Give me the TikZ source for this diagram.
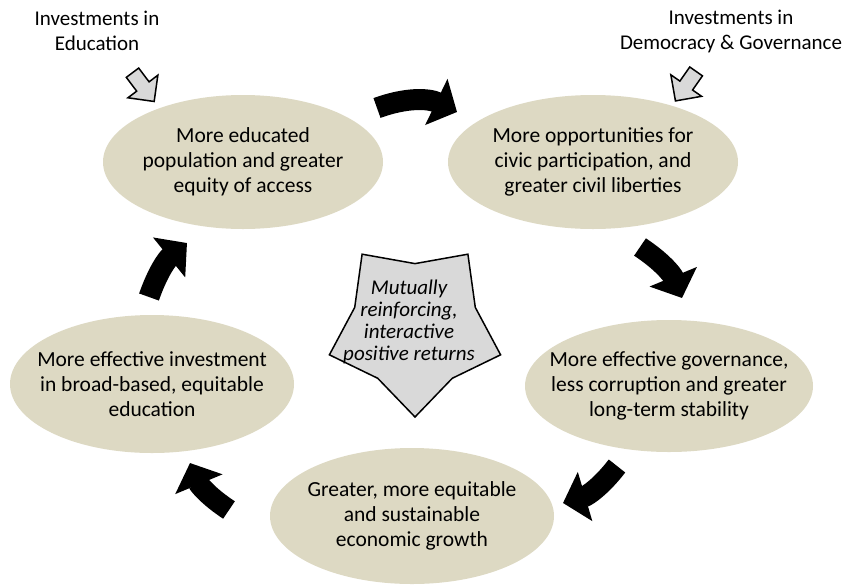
\documentclass[tikz,border=0pt]{standalone}
\usepackage{fontspec}
\setmainfont{Carlito}
\usetikzlibrary{shapes.geometric,shapes.arrows,arrows.meta}
\definecolor{tanfill}{HTML}{DDD9C3}
\definecolor{arrowfill}{HTML}{D9D9D9}
\begin{document}
\begin{tikzpicture}[x=1pt,y=-1pt,
main node/.style={ellipse,fill=tanfill,inner xsep=-35pt,inner ysep=0pt,align=center,font=\fontsize{21.5}{25}\selectfont},
flow arrow/.style={line width=21pt,-{Triangle[width=50pt,length=23pt]}},
input arrow/.style={single arrow,draw,fill=arrowfill,line width=1.5pt,inner xsep=0pt,inner ysep=7pt,minimum height=36pt,minimum width=36pt,single arrow head extend=11pt},
input text/.style={align=center,font=\fontsize{21}{25}\selectfont}]
\useasboundingbox (0,0) rectangle (864,584);
\node[input text] (6) at (97,31) {Investments in\\Education};
\node[input text] (7) at (731,31) {Investments in\\Democracy \& Governance};
\node[input arrow,rotate=-53] (61) at (141,84) {};
\node[input arrow,rotate=-125] (71) at (688,83) {};
\node[main node,minimum width=280pt,minimum height=134pt] (1) at (243,162) {More educated\\population and greater\\equity of access};
\node[main node,minimum width=290pt,minimum height=134pt] (2) at (593,162) {More opportunities for\\civic participation, and\\greater civil liberties};
\node[main node,minimum width=288pt,minimum height=132pt] (3) at (669,386) {More effective governance,\\less corruption and greater\\long-term stability};
\node[main node,minimum width=284pt,minimum height=136pt] (4) at (412,516) {Greater, more equitable\\and sustainable\\economic growth};
\node[main node,minimum width=284pt,minimum height=138pt] (5) at (152,384) {More effective investment\\in broad-based, equitable\\education};
\node[star,star points=5,star point ratio=1.42,shape border rotate=180,minimum size=180pt,inner sep=0pt,draw,line width=1.5pt,fill=arrowfill] (0) at (415,327) {};
\node[align=center,font=\itshape\fontsize{21}{22}\selectfont] (8) at (409,322) {Mutually\\reinforcing,\\interactive\\positive returns};
\coordinate (12a) at (377,108);
\coordinate (12b) at (457,112);
\coordinate (23a) at (640,247);
\coordinate (23b) at (682,298);
\coordinate (34a) at (617,466);
\coordinate (34b) at (563,503);
\coordinate (45a) at (229,510);
\coordinate (45b) at (190,463);
\coordinate (51a) at (149,297);
\coordinate (51b) at (187,243);
\draw[flow arrow] (12a) to[bend left=23] (12b);
\draw[flow arrow] (23a) to[bend left=17] (23b);
\draw[flow arrow] (34a) to[bend left=18] (34b);
\draw[flow arrow] (45a) to[bend left=17] (45b);
\draw[flow arrow] (51a) to[bend left=16] (51b);
\end{tikzpicture}
\end{document}
